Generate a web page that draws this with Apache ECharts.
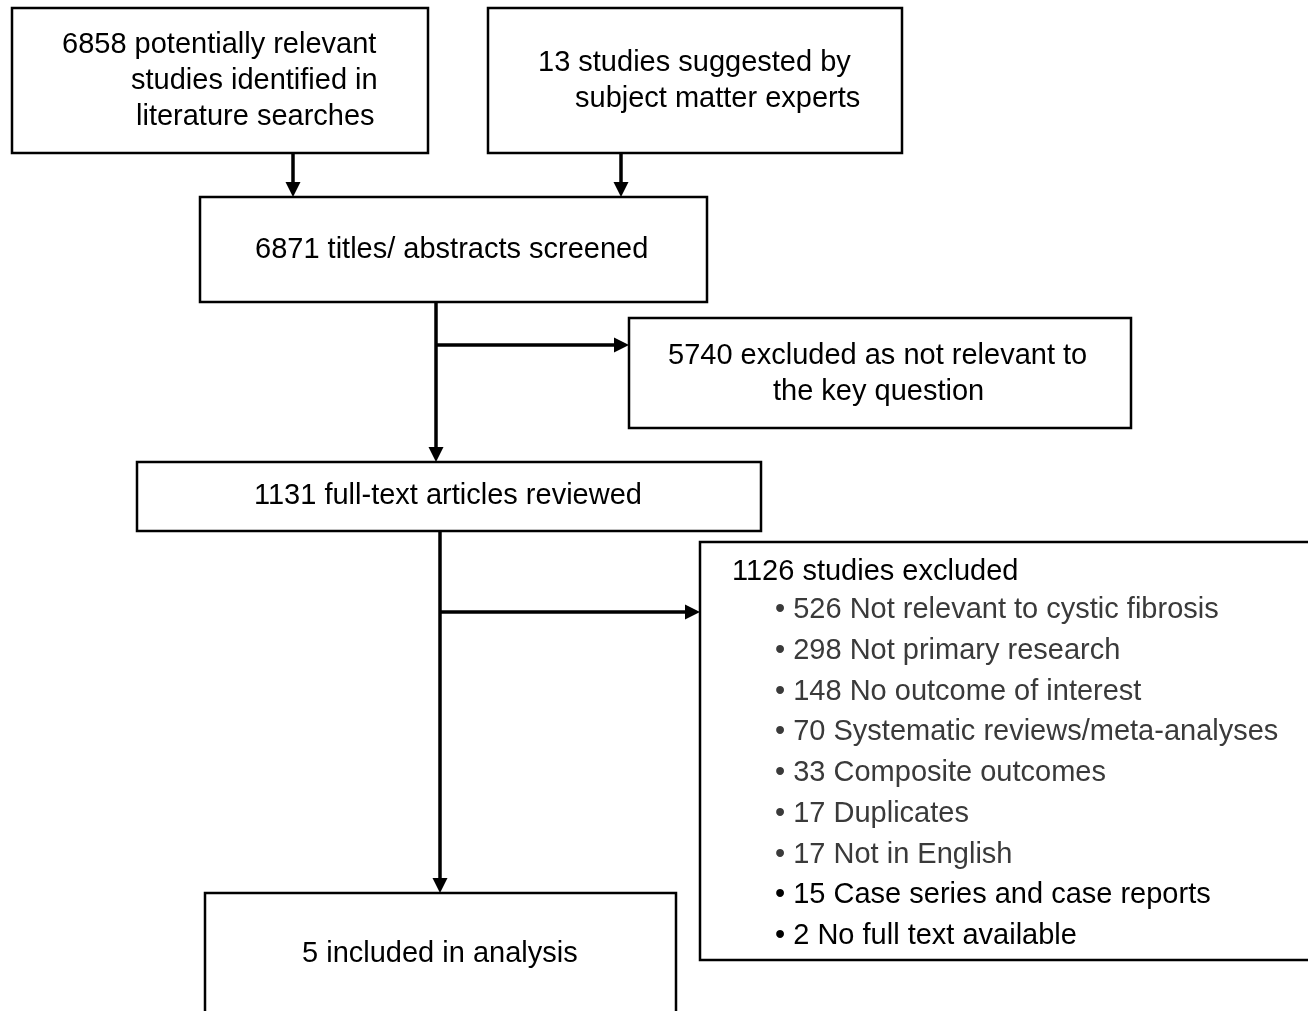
<!DOCTYPE html>
<html>
<head>
<meta charset="utf-8">
<script src="https://cdn.jsdelivr.net/npm/echarts@6/dist/echarts.min.js"></script>
<style>html,body{margin:0;padding:0;background:#fff}#c{width:1308px;height:1011px}</style>
</head>
<body>
<div id="c"></div>
<script>
// ---- data ----
const identifiedSearch = 6858;
const identifiedExperts = 13;
const screened = 6871;
const excludedScreen = 5740;
const fullText = 1131;
const excludedFull = 1126;
const included = 5;
const exclusionReasons = ['Not relevant to cystic fibrosis', 'Not primary research', 'No outcome of interest',
  'Systematic reviews/meta-analyses', 'Composite outcomes', 'Duplicates', 'Not in English',
  'Case series and case reports', 'No full text available'];
const exclusionCounts = [526, 298, 148, 70, 33, 17, 17, 15, 2];

// ---- layout (canvas units) ----
const boxLayout = [
  [12, 8, 428, 153],
  [488, 8, 902, 153],
  [200, 197, 707, 302],
  [629, 318, 1131, 428],
  [137, 462, 761, 531],
  [700, 542, 1330, 960],
  [205, 893, 676, 1040]
];
const arrowLayout = [
  [293, 153, 293, 197],
  [621, 153, 621, 197],
  [436, 302, 436, 462],
  [436, 345, 629, 345],
  [440, 531, 440, 893],
  [440, 612, 700, 612]
];
const textLines = [
  identifiedSearch + ' potentially relevant', 'studies identified in', 'literature searches',
  identifiedExperts + ' studies suggested by', 'subject matter experts',
  screened + ' titles/ abstracts screened',
  excludedScreen + ' excluded as not relevant to', 'the key question',
  fullText + ' full-text articles reviewed',
  excludedFull + ' studies excluded',
  included + ' included in analysis'
].concat(exclusionReasons.map((r, i) => '\u2022 ' + exclusionCounts[i] + ' ' + r));
const textPos = [
  [62, 45], [131, 81], [136, 117],
  [538, 63], [575, 99],
  [255, 250],
  [668, 356], [773, 392],
  [254, 496],
  [732, 572],
  [302, 954]
].concat(exclusionReasons.map((r, i) => [775, 610 + i * 40.75]));
const textColor = textLines.map((t, i) => (i >= 11 && i < 18) ? '#3a3a3a' : '#000');

const FONT = '29px "Liberation Sans", Arial, sans-serif';

const chart = echarts.init(document.getElementById('c'), null, {renderer: 'canvas'});
chart.setOption({
  animation: false,
  backgroundColor: '#fff',
  grid: {left: 0, right: 0, top: 0, bottom: 0},
  xAxis: {type: 'value', min: 0, max: 1308, show: false},
  yAxis: {type: 'value', min: 0, max: 1011, inverse: true, show: false},
  series: [
    {
      type: 'custom', clip: false, silent: true,
      data: boxLayout,
      renderItem: (params, api) => {
        const p1 = api.coord([api.value(0), api.value(1)]);
        const p2 = api.coord([api.value(2), api.value(3)]);
        return {type: 'rect', shape: {x: p1[0], y: p1[1], width: p2[0] - p1[0], height: p2[1] - p1[1]},
          style: {fill: '#fff', stroke: '#000', lineWidth: 2.5}};
      }
    },
    {
      type: 'custom', clip: false, silent: true,
      data: arrowLayout,
      renderItem: (params, api) => {
        const a = api.coord([api.value(0), api.value(1)]);
        const b = api.coord([api.value(2), api.value(3)]);
        const dx = b[0] - a[0], dy = b[1] - a[1];
        const len = Math.sqrt(dx * dx + dy * dy);
        const ux = dx / len, uy = dy / len;
        const hl = 15, hw = 7.5;
        const base = [b[0] - ux * hl, b[1] - uy * hl];
        return {type: 'group', children: [
          {type: 'line', shape: {x1: a[0], y1: a[1], x2: base[0] + ux, y2: base[1] + uy},
            style: {stroke: '#000', lineWidth: 3.5}},
          {type: 'polygon', shape: {points: [[b[0], b[1]], [base[0] - uy * hw, base[1] + ux * hw], [base[0] + uy * hw, base[1] - ux * hw]]},
            style: {fill: '#000'}}
        ]};
      }
    },
    {
      type: 'custom', clip: false, silent: true,
      data: textPos.map((p, i) => [p[0], p[1], i]),
      renderItem: (params, api) => {
        const p = api.coord([api.value(0), api.value(1)]);
        const i = api.value(2);
        return {type: 'text', x: p[0], y: p[1],
          style: {text: textLines[i], font: FONT, fill: textColor[i], align: 'left', verticalAlign: 'middle'}};
      }
    }
  ]
});
</script>
</body>
</html>
